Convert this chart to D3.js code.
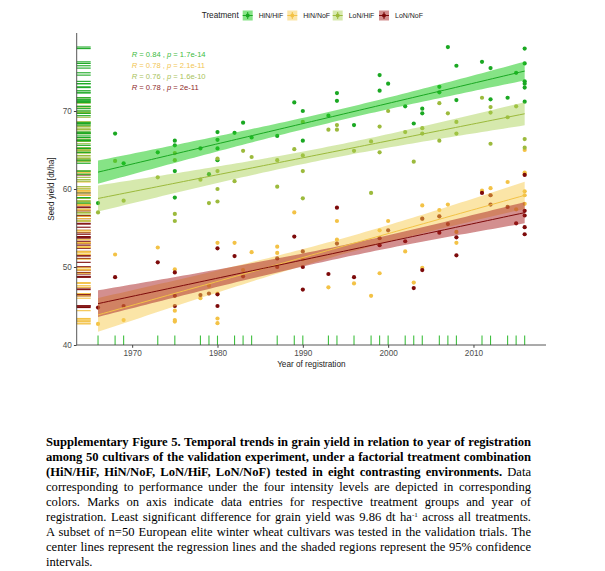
<!DOCTYPE html>
<html>
<head>
<meta charset="utf-8">
<script src="https://cdn.jsdelivr.net/npm/d3@7"></script>
<style>
  html, body { margin: 0; padding: 0; background: #fff; }
  #wrap { position: relative; width: 605px; height: 571px; overflow: hidden; }
  svg { position: absolute; left: 0; top: 0; }
  #caption { position: absolute; left: 46px; top: 435px; width: 485px;
    font-family: "Liberation Serif", "Times New Roman", serif; font-size: 12.6px; line-height: 15px; color: #000; }
  #caption div { text-align: justify; text-align-last: justify; white-space: nowrap; }
  #caption div.last { text-align-last: left; }
  sup { font-size: 7px; vertical-align: 4px; line-height: 0; }
</style>
</head>
<body>
<div id="wrap">
<svg id="chart" width="605" height="430"></svg>
<div id="caption"></div>
</div>
<script>
// ---------------- DATA ----------------
const treatments = ["HiN/HiF", "HiN/NoF", "LoN/HiF", "LoN/NoF"];
const rugYears = [1966,1968,1969,1973,1975,1978,1979,1980,1982,1983,1984,1987,1989,1990,1993,1994,1996,1998,1999,2000,2002,2003,2004,2006,2007,2008,2011,2012,2014,2015,2016];

const hihfYears = [1966,1968,1969,1973,1975,1975,1975,1975,1978,1979,1980,1980,1980,1980,1982,1983,1984,1987,1989,1990,1990,1993,1994,1994,1996,1999,1999,2000,2002,2003,2004,2004,2006,2006,2007,2008,2008,2011,2012,2012,2014,2015,2016,2016,2016,2016,2016,2016];
const hihfYield = [58.2,67.1,63.3,64.7,66.2,65.6,62.3,58.9,65.2,61.9,67.3,66.3,65.2,63.7,67.2,68.5,66.6,66.8,71.1,70.0,66.2,69.4,72.3,71.3,68.2,74.6,72.6,73.5,70.6,68.4,70.3,69.7,73.1,72.4,78.2,75.8,71.4,76.3,75.5,71.5,71.7,74.9,78.0,76.1,73.8,73.5,73.0,71.2];

const hinfYears = [1966,1968,1969,1973,1975,1975,1975,1975,1978,1979,1980,1980,1980,1980,1982,1983,1984,1987,1987,1989,1990,1993,1994,1994,1996,1998,1999,1999,2000,2002,2003,2004,2004,2004,2006,2006,2007,2008,2008,2011,2012,2012,2014,2015,2016,2016,2016,2016,2016,2016];
const hinfYield = [42.7,51.6,43.2,52.5,49.7,44.4,43.2,43.0,46.0,47.6,53.1,46.6,43.4,42.8,53.1,49.6,51.9,52.6,51.8,57.0,51.0,47.4,55.9,53.5,47.9,46.3,54.7,49.2,55.9,52.0,48.0,57.9,56.2,49.9,57.3,56.5,58.0,54.5,53.1,59.8,60.1,59.2,60.9,57.4,65.0,62.1,61.9,59.7,59.2,58.1];

const lohfYears = [1966,1968,1969,1973,1975,1975,1975,1975,1978,1979,1980,1980,1980,1980,1982,1983,1984,1987,1987,1989,1990,1990,1990,1990,1993,1994,1994,1996,1998,1998,1999,1999,2000,2002,2003,2004,2004,2006,2006,2007,2008,2008,2011,2012,2012,2012,2014,2015,2016,2016];
const lohfYield = [57.0,63.6,58.5,61.5,64.6,63.7,56.8,55.9,61.2,58.2,63.9,62.3,60.0,58.4,61.0,64.9,64.1,63.7,60.3,65.1,68.6,64.3,62.3,58.8,67.6,68.2,67.6,64.9,66.1,59.5,68.0,64.7,70.0,67.3,63.5,67.8,67.1,71.0,66.2,69.7,68.6,67.1,71.7,70.5,69.8,65.8,69.2,70.6,66.4,65.3];

const lonfYears = [1966,1968,1969,1973,1975,1975,1975,1978,1979,1980,1980,1980,1982,1983,1987,1987,1989,1990,1990,1990,1993,1994,1994,1996,1999,1999,2000,2002,2003,2004,2004,2006,2006,2007,2008,2008,2011,2012,2012,2014,2015,2016,2016,2016,2016,2016];
const lonfYield = [44.8,48.7,45.0,50.6,49.3,46.3,45.0,46.4,46.6,52.4,46.5,45.0,51.4,48.8,51.1,50.0,53.9,52.0,50.0,47.1,49.1,57.6,53.0,48.7,53.7,52.8,54.7,53.3,47.3,56.2,49.6,56.5,54.4,55.5,53.8,51.5,59.5,59.2,58.0,57.7,55.6,61.8,57.2,56.6,55.1,54.2];

const statLabels = [["0.84","1.7e-14"],["0.78","2.1e-11"],["0.76","1.6e-10"],["0.78","2e-11"]];
const xTicks = [1970, 1980, 1990, 2000, 2010];
const yTicks = [40, 50, 60, 70];

// ---------------- STYLE ----------------
const pointCol = {"HiN/HiF":"#1aa822","HiN/NoF":"#f3c246","LoN/HiF":"#9cba3c","LoN/NoF":"#7d0a0a"};
const bandCol  = {"HiN/HiF":"#22cc22","HiN/NoF":"#f8cc50","LoN/HiF":"#a5cf4a","LoN/NoF":"#a82020"};
const bandOp   = {"HiN/HiF":0.55,"HiN/NoF":0.5,"LoN/HiF":0.45,"LoN/NoF":0.5};
const textCol  = {"HiN/HiF":"#3cbb3c","HiN/NoF":"#f1c551","LoN/HiF":"#a9c25a","LoN/NoF":"#8e2a2a"};

const series = [
  {name:"HiN/HiF", years:hihfYears, vals:hihfYield},
  {name:"HiN/NoF", years:hinfYears, vals:hinfYield},
  {name:"LoN/HiF", years:lohfYears, vals:lohfYield},
  {name:"LoN/NoF", years:lonfYears, vals:lonfYield}
];

const svg = d3.select("#chart");
const L = 76.7, R = 546, T = 33, B = 345;
const x = d3.scaleLinear().domain([1963.5, 2018.5]).range([L, R]);
const y = d3.scaleLinear().domain([40, 80]).range([B, T]);

function fit(xs, ys) {
  const n = xs.length, mx = d3.mean(xs), my = d3.mean(ys);
  let sxx = 0, sxy = 0;
  for (let i = 0; i < n; i++) { sxx += (xs[i]-mx)**2; sxy += (xs[i]-mx)*(ys[i]-my); }
  const b = sxy / sxx, a = my - b*mx;
  let sse = 0;
  for (let i = 0; i < n; i++) sse += (ys[i] - a - b*xs[i])**2;
  const s = Math.sqrt(sse/(n-2));
  const t = 2.01;
  const x0 = d3.min(xs), x1 = d3.max(xs);
  return d3.range(0, 81).map(k => {
    const xx = x0 + (x1-x0)*k/80;
    const yy = a + b*xx;
    const se = s*Math.sqrt(1/n + (xx-mx)**2/sxx);
    return {x: xx, y: yy, lo: yy - t*se, hi: yy + t*se};
  });
}

const gPts = svg.append("g");
const gBand = svg.append("g");
const gLine = svg.append("g");
const gRug = svg.append("g");

series.forEach(s => {
  gPts.selectAll(null).data(s.years.map((yr,i)=>({yr, v:s.vals[i]}))).enter()
    .append("circle")
    .attr("cx", d => x(d.yr)).attr("cy", d => y(d.v)).attr("r", 2.1)
    .attr("fill", pointCol[s.name]);
});

const area = d3.area().x(d => x(d.x)).y0(d => y(d.lo)).y1(d => y(d.hi));
const line = d3.line().x(d => x(d.x)).y(d => y(d.y));
series.forEach(s => {
  const f = fit(s.years, s.vals);
  gBand.append("path").datum(f).attr("d", area)
    .attr("fill", bandCol[s.name]).attr("fill-opacity", bandOp[s.name]);
  gLine.append("path").datum(f).attr("d", line)
    .attr("fill", "none").attr("stroke", pointCol[s.name]).attr("stroke-width", 1);
});

const rugOrder = ["LoN/NoF","HiN/NoF","LoN/HiF","HiN/HiF"];
rugOrder.forEach(nm => {
  const s = series.find(d => d.name === nm);
  gRug.selectAll(null).data(s.vals).enter().append("line")
    .attr("x1", L).attr("x2", L + 14)
    .attr("y1", d => y(d)).attr("y2", d => y(d))
    .attr("stroke", pointCol[nm]).attr("stroke-width", 1.1);
});
gRug.selectAll(null).data(rugYears).enter().append("line")
  .attr("x1", d => x(d)).attr("x2", d => x(d))
  .attr("y1", B).attr("y2", B - 9.4)
  .attr("stroke", "#3fbf3f").attr("stroke-width", 1.1);

const xAxis = d3.axisBottom(x).tickValues(xTicks).tickSize(2.8).tickPadding(2).tickFormat(d3.format("d"));
const yAxis = d3.axisLeft(y).tickValues(yTicks).tickSize(2.8).tickPadding(2);
const gx = svg.append("g").attr("transform", `translate(0,${B})`).call(xAxis);
const gy = svg.append("g").attr("transform", `translate(${L},0)`).call(yAxis);
[gx, gy].forEach(g => {
  g.select(".domain").attr("stroke", "#444").attr("stroke-width", 0.9);
  g.selectAll(".tick line").attr("stroke", "#444");
  g.selectAll(".tick text").attr("fill", "#4d4d4d").attr("font-size", 8.2)
    .attr("font-family", "Liberation Sans, Arial, sans-serif");
});
gy.select(".domain").attr("d", `M0,${B}V${T}`);
gx.select(".domain").attr("d", `M${L},0H${R}`);

svg.append("text").attr("x", (L+R)/2).attr("y", 367).attr("text-anchor", "middle")
  .attr("font-family", "Liberation Sans, Arial, sans-serif").attr("font-size", 8.2).attr("fill", "#222")
  .text("Year of registration");
svg.append("text").attr("transform", `translate(54,${(T+B)/2}) rotate(-90)`).attr("text-anchor", "middle")
  .attr("font-family", "Liberation Sans, Arial, sans-serif").attr("font-size", 8.2).attr("fill", "#222")
  .text("Seed yield [dt/ha]");

const statY = [57, 67.8, 78.8, 90];
treatments.forEach((nm, i) => {
  const t = svg.append("text").attr("x", 131.7).attr("y", statY[i])
    .attr("font-family", "Liberation Sans, Arial, sans-serif").attr("font-size", 7.6)
    .attr("fill", textCol[nm]);
  t.append("tspan").attr("font-style", "italic").text("R");
  t.append("tspan").text(` = ${statLabels[i][0]} , `);
  t.append("tspan").attr("font-style", "italic").text("p");
  t.append("tspan").text(` = ${statLabels[i][1]}`);
});

const lg = svg.append("g");
lg.append("text").attr("x", 201.7).attr("y", 18.2)
  .attr("font-family", "Liberation Sans, Arial, sans-serif").attr("font-size", 8.2).attr("fill", "#222")
  .text("Treatment");
const keyX = [242.7, 287.3, 332.7, 379];
treatments.forEach((nm, i) => {
  const kx = keyX[i], ky = 10.5, ks = 10;
  lg.append("rect").attr("x", kx).attr("y", ky).attr("width", ks).attr("height", ks)
    .attr("fill", bandCol[nm]).attr("fill-opacity", bandOp[nm]);
  lg.append("line").attr("x1", kx).attr("x2", kx+ks).attr("y1", ky+ks/2).attr("y2", ky+ks/2)
    .attr("stroke", pointCol[nm]).attr("stroke-width", 1);
  lg.append("line").attr("x1", kx+ks/2).attr("x2", kx+ks/2).attr("y1", ky+1.5).attr("y2", ky+ks-1.5)
    .attr("stroke", pointCol[nm]).attr("stroke-width", 1);
  lg.append("circle").attr("cx", kx+ks/2).attr("cy", ky+ks/2).attr("r", 2).attr("fill", pointCol[nm]);
  lg.append("text").attr("x", kx + 16).attr("y", 18).attr("font-family", "Liberation Sans, Arial, sans-serif")
    .attr("font-size", 7).attr("fill", "#222").text(nm);
});

const captionLines = [
  "<b>Supplementary Figure 5. Temporal trends in grain yield in relation to year of registration</b>",
  "<b>among 50 cultivars of the validation experiment, under a factorial treatment combination</b>",
  "<b>(HiN/HiF, HiN/NoF, LoN/HiF, LoN/NoF) tested in eight contrasting environments.</b> Data",
  "corresponding to performance under the four intensity levels are depicted in corresponding",
  "colors. Marks on axis indicate data entries for respective treatment groups and year of",
  "registration. Least significant difference for grain yield was 9.86 dt ha<sup>-1</sup> across all treatments.",
  "A subset of n=50 European elite winter wheat cultivars was tested in the validation trials. The",
  "center lines represent the regression lines and the shaded regions represent the 95% confidence",
  "intervals."
];
const cap = d3.select("#caption");
captionLines.forEach((t, i) => {
  cap.append("div").attr("class", i === captionLines.length - 1 ? "last" : null).html(t);
});
</script>
</body>
</html>
